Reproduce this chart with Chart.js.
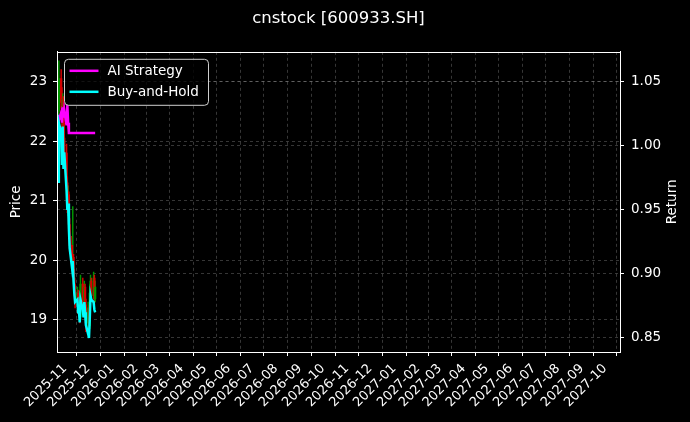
<!DOCTYPE html>
<html>
<head>
<meta charset="utf-8">
<title>cnstock [600933.SH]</title>
<script src="https://cdn.jsdelivr.net/npm/chart.js@4.4.1/dist/chart.umd.min.js"></script>
<style>
    html, body { margin: 0; padding: 0; background: #000; }
    #wrap { width: 690px; height: 422px; }
</style>
</head>
<body>
<div id="wrap"><canvas id="chart" width="690" height="422"></canvas></div>
<script>
// trading days shown in the picture
const dates = ['2025-10-22', '2025-10-23', '2025-10-24', '2025-10-27', '2025-10-28', '2025-10-29', '2025-10-30', '2025-10-31',
    '2025-11-03', '2025-11-04', '2025-11-05', '2025-11-06', '2025-11-07', '2025-11-10', '2025-11-11', '2025-11-12',
    '2025-11-13', '2025-11-14', '2025-11-17', '2025-11-18', '2025-11-19', '2025-11-20', '2025-11-21', '2025-11-24',
    '2025-11-25', '2025-11-26', '2025-11-27', '2025-11-28', '2025-12-01', '2025-12-02', '2025-12-03', '2025-12-04',
    '2025-12-05', '2025-12-08', '2025-12-09', '2025-12-10'];

const openP = [22.40, 22.85, 22.50, 23.05, 22.65, 22.35, 22.70, 22.05, 21.80, 21.30, 20.90, 21.10, 20.60, 20.25, 19.95, 20.05,
    19.70, 19.50, 19.35, 19.45, 19.20, 19.30, 19.05, 19.60, 19.30, 19.15, 19.55, 19.25, 18.95, 19.20, 18.90, 19.45,
    19.65, 19.40, 19.70, 19.35];
const highP = [22.95, 23.10, 23.35, 23.20, 22.90, 22.80, 22.75, 22.30, 21.95, 21.40, 21.25, 21.15, 20.70, 20.40, 20.90, 20.10,
    19.85, 19.60, 19.55, 19.50, 19.45, 19.35, 19.75, 19.70, 19.40, 19.65, 19.60, 19.35, 19.30, 19.25, 19.60, 19.75,
    19.70, 19.80, 19.75, 19.65];
const lowP = [22.30, 22.45, 22.40, 22.55, 22.20, 22.25, 21.95, 21.70, 21.20, 20.80, 20.75, 20.55, 20.15, 19.85, 19.80, 19.60,
    19.40, 19.20, 19.25, 19.10, 19.10, 18.95, 19.00, 19.20, 19.05, 19.10, 19.15, 18.80, 18.75, 18.70, 18.85, 19.35,
    19.30, 19.35, 19.25, 19.30];
const closeP = [22.85, 22.50, 23.05, 22.65, 22.35, 22.70, 22.05, 21.80, 21.30, 20.90, 21.10, 20.60, 20.25, 19.95, 20.05, 19.70,
    19.50, 19.35, 19.45, 19.20, 19.30, 19.05, 19.60, 19.30, 19.15, 19.55, 19.25, 18.95, 19.20, 18.90, 19.45, 19.65,
    19.40, 19.70, 19.35, 19.55];

const aiReturn = [1.000, 1.024, 1.020, 1.026, 1.018, 1.030, 1.022, 1.028, 1.016, 1.032, 1.018, 1.010, 1.010, 1.010, 1.010, 1.010,
    1.010, 1.010, 1.010, 1.010, 1.010, 1.010, 1.010, 1.010, 1.010, 1.010, 1.010, 1.010, 1.010, 1.010, 1.010, 1.010,
    1.010, 1.010, 1.010, 1.010];
const holdReturn = [1.000, 0.972, 1.018, 1.010, 0.985, 1.015, 0.982, 0.995, 0.965, 0.950, 0.955, 0.935, 0.920, 0.905, 0.910, 0.895,
    0.885, 0.878, 0.880, 0.870, 0.872, 0.862, 0.880, 0.872, 0.866, 0.878, 0.870, 0.860, 0.853, 0.850, 0.865, 0.883,
    0.880, 0.878, 0.872, 0.870];

const monthLabels = ['2025-11', '2025-12', '2026-01', '2026-02', '2026-03', '2026-04', '2026-05', '2026-06', '2026-07', '2026-08',
    '2026-09', '2026-10', '2026-11', '2026-12', '2027-01', '2027-02', '2027-03', '2027-04', '2027-05', '2027-06',
    '2027-07', '2027-08', '2027-09', '2027-10'];
const priceTicks = [19, 20, 21, 22, 23];
const returnTicks = [0.85, 0.90, 0.95, 1.00, 1.05];

// days since epoch, so the x axis can be a plain linear scale
function toDay(s) {
    const p = s.split('-').map(Number);
    return Date.UTC(p[0], p[1] - 1, p[2] || 1) / 86400000;
}
function dayLabel(v) {
    const d = new Date(v * 86400000);
    return d.getUTCFullYear() + '-' + String(d.getUTCMonth() + 1).padStart(2, '0');
}

const xs = dates.map(toDay);
const monthTicks = monthLabels.map(toDay);

const UP = 'rgb(0,150,0)';
const DOWN = 'rgb(215,0,0)';
function candleColor(ctx) {
    const i = ctx.dataIndex;
    return closeP[i] >= openP[i] ? UP : DOWN;
}

const FONT = 'DejaVu Sans';
const GRID = 'rgba(255,255,255,0.27)';

const frame = {
    id: 'frame',
    beforeDraw(chart) {
        const c = chart.ctx;
        c.save();
        c.fillStyle = '#000';
        c.fillRect(0, 0, chart.width, chart.height);
        c.restore();
    },
    afterDraw(chart) {
        const c = chart.ctx;
        const a = chart.chartArea;
        c.save();
        c.strokeStyle = '#fff';
        c.lineWidth = 1;
        c.strokeRect(Math.round(a.left) + 0.5, Math.round(a.top) + 0.5, Math.round(a.right - a.left), Math.round(a.bottom - a.top));

        // right axis title reads bottom to top, like the left one
        c.save();
        c.translate(672, (a.top + a.bottom) / 2);
        c.rotate(-Math.PI / 2);
        c.font = '13.5px ' + FONT;
        c.fillStyle = '#fff';
        c.textAlign = 'center';
        c.textBaseline = 'middle';
        c.fillText('Return', 0, 0);
        c.restore();

        // legend box top-left inside the axes
        const lx = a.left + 7.5, ly = a.top + 7.5, lw = 144, lh = 46;
        c.beginPath();
        c.roundRect(lx, ly, lw, lh, 4);
        c.fillStyle = 'rgba(0,0,0,0.8)';
        c.fill();
        c.strokeStyle = '#cfcfcf';
        c.stroke();
        const items = chart.data.datasets.filter(d => d.type === 'line');
        c.font = '13.5px ' + FONT;
        c.textBaseline = 'middle';
        items.forEach((d, k) => {
            const yy = ly + 11.5 + k * 21;
            c.beginPath();
            c.moveTo(lx + 5, yy);
            c.lineTo(lx + 34, yy);
            c.strokeStyle = d.borderColor;
            c.lineWidth = 2.5;
            c.stroke();
            c.fillStyle = '#fff';
            c.fillText(d.label, lx + 43, yy + 0.5);
        });
        c.restore();
    }
};

const chart = new Chart(document.getElementById('chart'), {
    type: 'bar',
    data: {
        datasets: [{
            type: 'line',
            label: 'AI Strategy',
            data: xs.map((x, i) => ({x: x, y: aiReturn[i]})),
            yAxisID: 'yR',
            borderColor: '#ff00ff',
            borderWidth: 2.5,
            pointRadius: 0,
            tension: 0,
            order: 1
        }, {
            type: 'line',
            label: 'Buy-and-Hold',
            data: xs.map((x, i) => ({x: x, y: holdReturn[i]})),
            yAxisID: 'yR',
            borderColor: '#00ffff',
            borderWidth: 2.5,
            pointRadius: 0,
            tension: 0,
            order: 0
        }, {
            label: 'wick',
            data: xs.map((x, i) => ({x: x, y: [lowP[i], highP[i]]})),
            yAxisID: 'yL',
            backgroundColor: candleColor,
            barThickness: 0.8,
            grouped: false,
            order: 3
        }, {
            label: 'body',
            data: xs.map((x, i) => ({x: x, y: [openP[i], closeP[i]]})),
            yAxisID: 'yL',
            backgroundColor: candleColor,
            barThickness: 1.6,
            grouped: false,
            order: 2
        }]
    },
    options: {
        responsive: false,
        animation: false,
        layout: { padding: 0 },
        plugins: {
            legend: { display: false },
            tooltip: { enabled: false },
            title: {
                display: true,
                text: 'cnstock [600933.SH]',
                color: '#fff',
                fullSize: false,
                font: { family: FONT, size: 16.5, weight: 'normal' },
                padding: { top: 9, bottom: 23 }
            }
        },
        scales: {
            x: {
                type: 'linear',
                offset: false,
                min: toDay('2025-10-21') + 0.6,
                max: toDay('2027-10-20') + 0.4,
                afterBuildTicks: function (s) { s.ticks = monthTicks.map(v => ({value: v})); },
                afterFit: function (s) { s.height = 70; },
                grid: { color: GRID, lineWidth: 0.8, tickColor: '#fff', tickLength: 4, tickWidth: 1 },
                border: { color: '#fff', dash: [3, 3] },
                ticks: {
                    color: '#fff',
                    autoSkip: false,
                    maxRotation: 45,
                    minRotation: 45,
                    padding: 5,
                    font: { family: FONT, size: 13 },
                    callback: function (v) { return dayLabel(v); }
                }
            },
            yL: {
                type: 'linear',
                position: 'left',
                min: 18.46,
                max: 23.5,
                afterBuildTicks: function (s) { s.ticks = priceTicks.map(v => ({value: v})); },
                afterFit: function (s) { s.width = 57; },
                grid: { color: GRID, lineWidth: 0.8, tickColor: '#fff', tickLength: 4, tickWidth: 1 },
                border: { color: '#fff', dash: [3, 3] },
                title: { display: true, text: 'Price', color: '#fff', font: { family: FONT, size: 13.5 }, padding: { top: 8, bottom: 0 } },
                ticks: { color: '#fff', padding: 6, font: { family: FONT, size: 13.5 } }
            },
            yR: {
                type: 'linear',
                position: 'right',
                min: 0.839,
                max: 1.0734,
                afterBuildTicks: function (s) { s.ticks = returnTicks.map(v => ({value: v})); },
                afterFit: function (s) { s.width = 70; },
                grid: { color: GRID, lineWidth: 0.8, tickColor: '#fff', tickLength: 4, tickWidth: 1 },
                border: { color: '#fff', dash: [3, 3] },
                title: { display: false },
                ticks: {
                    color: '#fff',
                    padding: 7,
                    font: { family: FONT, size: 13.5 },
                    callback: function (v) { return v.toFixed(2); }
                }
            }
        }
    },
    plugins: [frame]
});
</script>
</body>
</html>
